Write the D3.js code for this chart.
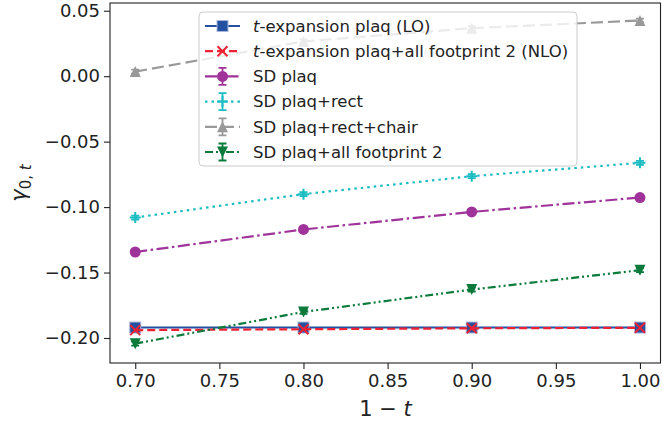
<!DOCTYPE html>
<html>
<head>
<meta charset="utf-8">
<script src="https://cdn.jsdelivr.net/npm/d3@7"></script>
<style>
  body { margin: 0; background: #fff; }
  svg { display: block; font-family: "DejaVu Sans", sans-serif; }
</style>
</head>
<body>
<div id="chart"></div>
<script>
// values
const xValues = [0.7, 0.8, 0.9, 1.0];
const loValues = [-0.1920, -0.1920, -0.1920, -0.1920];
const nloValues = [-0.1940, -0.1933, -0.1926, -0.1922];
const sdPlaq = [-0.1343, -0.1171, -0.1037, -0.0927];
const sdPlaqRect = [-0.1080, -0.0901, -0.0764, -0.0662];
const sdPlaqRectChair = [0.0035, 0.0265, 0.0367, 0.0425];
const sdPlaqAllFp2 = [-0.2043, -0.1801, -0.1630, -0.1482];
const sdErr = [0.0015, 0.0015, 0.0015, 0.0015];
const xTicks = [0.70, 0.75, 0.80, 0.85, 0.90, 0.95, 1.00];
const yTicks = [-0.20, -0.15, -0.10, -0.05, 0.00, 0.05];

const width = 662, height = 425;
const margins = {top: 3, left: 110, right: 1, bottom: 62};

const series = [
  {label: "expansion plaq (LO)", italicT: true, values: loValues, color: "#2350a0", dash: null, marker: "square", err: null},
  {label: "expansion plaq+all footprint 2 (NLO)", italicT: true, values: nloValues, color: "#ee2233", dash: "8,4", marker: "x", err: null},
  {label: "SD plaq", values: sdPlaq, color: "#a0339a", dash: "12,3.5,2.5,3.5", marker: "circle", err: sdErr},
  {label: "SD plaq+rect", values: sdPlaqRect, color: "#1bbdc2", dash: "2.5,4", marker: "plus", err: sdErr},
  {label: "SD plaq+rect+chair", values: sdPlaqRectChair, color: "#999999", dash: "12,5", marker: "triUp", err: sdErr},
  {label: "SD plaq+all footprint 2", values: sdPlaqAllFp2, color: "#0b7a3b", dash: "8,3,2,3,2,3", marker: "triDown", err: sdErr}
];

const svg = d3.select("#chart").append("svg")
  .attr("width", width)
  .attr("height", height);

const x = d3.scaleLinear().domain([0.685, 1.0125]).range([margins.left, width - margins.right]);
const y = d3.scaleLinear().domain([-0.2191, 0.0559]).range([height - margins.bottom, margins.top]);

// axes
const xAxis = svg.append("g")
  .attr("transform", `translate(0,${height - margins.bottom})`)
  .call(d3.axisBottom(x).tickValues(xTicks).tickFormat(d3.format(".2f")).tickSize(6).tickPadding(5).tickSizeOuter(0));
const yAxis = svg.append("g")
  .attr("transform", `translate(${margins.left},0)`)
  .call(d3.axisLeft(y).tickValues(yTicks).tickFormat(d3.format(".2f")).tickSize(6).tickPadding(4).tickSizeOuter(0));
[xAxis, yAxis].forEach(a => {
  a.select(".domain").remove();
  a.selectAll("line").attr("stroke", "#222").attr("stroke-width", 1.1);
  a.selectAll("text").attr("fill", "#222").style("font-size", "18px").style("font-family", "DejaVu Sans");
});

// frame
svg.append("rect")
  .attr("x", margins.left).attr("y", margins.top)
  .attr("width", width - margins.left - margins.right - 0.5)
  .attr("height", height - margins.top - margins.bottom)
  .attr("fill", "none").attr("stroke", "#222").attr("stroke-width", 1.1);

function drawMarker(g, type, color, cx, cy) {
  const s = 5.5;
  if (type === "square") {
    g.append("rect").attr("x", cx - s).attr("y", cy - s).attr("width", 2 * s).attr("height", 2 * s)
      .attr("fill", color).attr("stroke", "#a9b8dc").attr("stroke-width", 1);
  } else if (type === "circle") {
    g.append("circle").attr("cx", cx).attr("cy", cy).attr("r", s).attr("fill", color);
  } else if (type === "triUp") {
    g.append("path").attr("d", `M${cx},${cy - s}L${cx + s},${cy + s}L${cx - s},${cy + s}Z`).attr("fill", color);
  } else if (type === "triDown") {
    g.append("path").attr("d", `M${cx},${cy + s}L${cx + s},${cy - s}L${cx - s},${cy - s}Z`).attr("fill", color);
  } else if (type === "x") {
    const r = 5;
    g.append("path").attr("d", `M${cx - r},${cy - r}L${cx + r},${cy + r}M${cx - r},${cy + r}L${cx + r},${cy - r}`)
      .attr("stroke", color).attr("stroke-width", 2).attr("fill", "none");
  } else if (type === "plus") {
    const r = 5.5;
    g.append("path").attr("d", `M${cx - r},${cy}L${cx + r},${cy}M${cx},${cy - r}L${cx},${cy + r}`)
      .attr("stroke", color).attr("stroke-width", 2).attr("fill", "none");
  }
}

function drawErrorBar(g, color, cx, y0, y1) {
  const cap = 4;
  g.append("path")
    .attr("d", `M${cx},${y0}L${cx},${y1}M${cx - cap},${y0}L${cx + cap},${y0}M${cx - cap},${y1}L${cx + cap},${y1}`)
    .attr("stroke", color).attr("stroke-width", 1.8).attr("fill", "none");
}

const plot = svg.append("g");
const line = d3.line().x(d => x(d[0])).y(d => y(d[1]));

series.forEach(s => {
  const g = plot.append("g");
  const pts = xValues.map((xv, i) => [xv, s.values[i]]);
  g.append("path").datum(pts)
    .attr("d", line)
    .attr("fill", "none")
    .attr("stroke", s.color)
    .attr("stroke-width", 2.2)
    .attr("stroke-dasharray", s.dash);
  pts.forEach((p, i) => {
    if (s.err) drawErrorBar(g, s.color, x(p[0]), y(p[1] - s.err[i]), y(p[1] + s.err[i]));
    drawMarker(g, s.marker, s.color, x(p[0]), y(p[1]));
  });
});

// legend
const legend = svg.append("g");
legend.append("rect")
  .attr("x", 199).attr("y", 12).attr("width", 378).attr("height", 154).attr("rx", 4)
  .attr("fill", "#fff").attr("fill-opacity", 0.8)
  .attr("stroke", "#cccccc").attr("stroke-width", 1);

series.forEach((s, i) => {
  const cy = 26 + i * 25.2;
  const g = legend.append("g");
  g.append("line")
    .attr("x1", 205).attr("x2", 240).attr("y1", cy).attr("y2", cy)
    .attr("stroke", s.color).attr("stroke-width", 2.2)
    .attr("stroke-dasharray", s.dash);
  if (s.err) drawErrorBar(g, s.color, 222.5, cy - 8.5, cy + 8.5);
  drawMarker(g, s.marker, s.color, 222.5, cy);
  const t = g.append("text")
    .attr("x", 253).attr("y", cy).attr("dy", "0.35em")
    .attr("fill", "#222").style("font-size", "16.5px");
  if (s.italicT) t.append("tspan").style("font-style", "italic").text("t");
  t.append("tspan").text((s.italicT ? "-" : "") + s.label);
});

// axis labels
const xl = svg.append("text")
  .attr("x", (margins.left + width - margins.right) / 2).attr("y", 416)
  .attr("text-anchor", "middle").attr("fill", "#222").style("font-size", "21px");
xl.append("tspan").text("1 \u2212 ");
xl.append("tspan").style("font-style", "italic").text("t");

const yl = svg.append("text")
  .attr("transform", `translate(26,${(margins.top + height - margins.bottom) / 2}) rotate(-90)`)
  .attr("text-anchor", "middle").attr("fill", "#222").style("font-size", "21px");
yl.append("tspan").style("font-style", "italic").text("\u03b3");
yl.append("tspan").attr("dy", 5).style("font-size", "15px").text("0, ");
yl.append("tspan").style("font-size", "15px").style("font-style", "italic").text("t");
</script>
</body>
</html>
